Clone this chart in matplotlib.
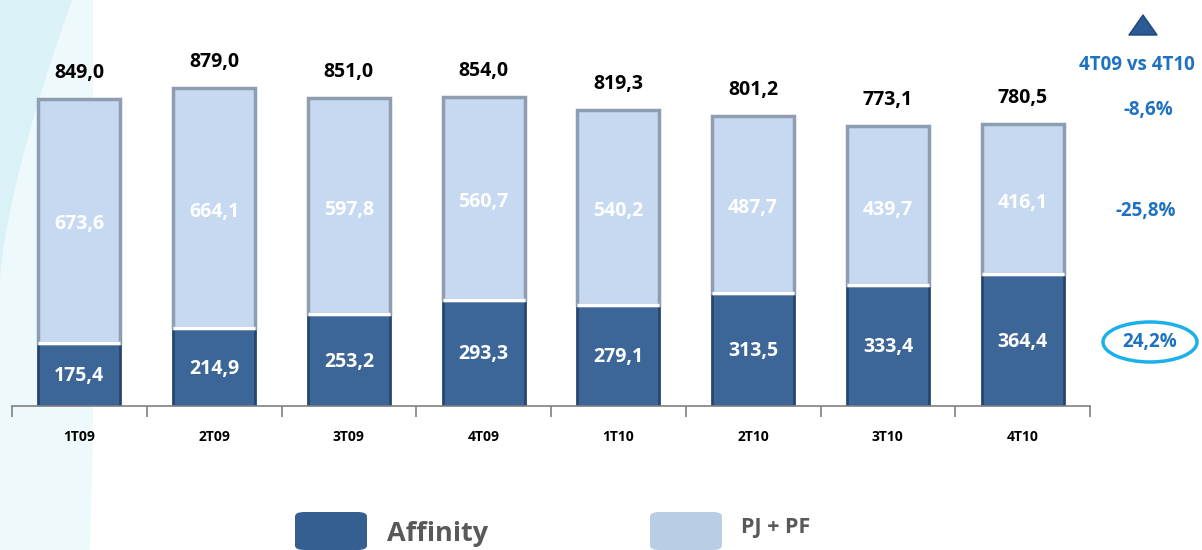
import matplotlib
matplotlib.use("Agg")
import matplotlib.pyplot as plt
from matplotlib.patches import Polygon, Ellipse, FancyBboxPatch
import numpy as np

categories = ["1T09", "2T09", "3T09", "4T09", "1T10", "2T10", "3T10", "4T10"]
affinity = [175.4, 214.9, 253.2, 293.3, 279.1, 313.5, 333.4, 364.4]
pj_pf = [673.6, 664.1, 597.8, 560.7, 540.2, 487.7, 439.7, 416.1]
totals = [849.0, 879.0, 851.0, 854.0, 819.3, 801.2, 773.1, 780.5]
variation_header = "4T09 vs 4T10"
var_total = "-8,6%"
var_pj = "-25,8%"
var_aff = "24,2%"

def fmt(v):
    return f"{v:.1f}".replace(".", ",")

plt.rcParams['font.family'] = ['Open Sans', 'DejaVu Sans']
W, H = 1202, 550
fig = plt.figure(figsize=(W / 100, H / 100), dpi=100)
fig.patch.set_facecolor("white")

def fpx(pts):
    return [(x / W, 1 - y / H) for x, y in pts]

# decorative background on the left (behind the chart)
light = Polygon(fpx([(0, 0), (93, 0), (93, 440), (90, 550), (0, 550)]), closed=True,
                transform=fig.transFigure, facecolor="#EEF9FC", edgecolor="none", zorder=-2)
t = np.linspace(0, 1, 40)
curve = [(72 * (1 - tt) ** 1.4, 280 * tt) for tt in t]
dark = Polygon(fpx([(0, 0)] + curve + [(0, 280)]), closed=True,
               transform=fig.transFigure, facecolor="#DAF1F8", edgecolor="none", zorder=-1)
fig.patches.extend([light, dark])

ax = fig.add_axes([12 / W, 144 / H, 1078 / W, 361.6 / H])
ax.set_facecolor("none")
ax.set_zorder(1)
x = np.arange(len(categories))
w = 0.61

ax.bar(x, affinity, width=w, color="#3D6698", edgecolor="#26466E", linewidth=2, zorder=2)
ax.bar(x, pj_pf, width=w, bottom=affinity, color="#C6D9F1", edgecolor="#8E9DB0",
       linewidth=2.5, zorder=2)
ax.hlines(affinity, x - w / 2, x + w / 2, colors="white", linewidth=2.5, zorder=3)

for xi, a, p, tot in zip(x, affinity, pj_pf, totals):
    ax.text(xi, a / 2 - 4, fmt(a), ha="center", va="center", color="white",
            fontsize=14, fontweight="bold", zorder=4)
    ax.text(xi, a + p / 2 - 10, fmt(p), ha="center", va="center", color="white",
            fontsize=14, fontweight="bold", zorder=4)
    ax.text(xi, tot + 72, fmt(tot), ha="center", va="center", color="black",
            fontsize=14, fontweight="bold", zorder=4)

ax.set_xlim(-0.5, len(categories) - 0.5)
ax.set_ylim(0, 1000)
for s in ["top", "right", "left"]:
    ax.spines[s].set_visible(False)
ax.spines["bottom"].set_color("#808080")
ax.spines["bottom"].set_linewidth(1.2)
ax.spines["bottom"].set_zorder(5)
ax.set_yticks([])
ax.set_xticks(np.arange(-0.5, len(categories)), minor=False)
ax.set_xticklabels([])
ax.tick_params(axis="x", which="major", length=8, color="#808080", width=1.2)
ax.set_xticks(x, minor=True)
ax.set_xticklabels(categories, minor=True, fontsize=10, fontweight="bold")
ax.tick_params(axis="x", which="minor", length=0, pad=17)

# right-side annotations
blue = "#1F72C0"
tri = Polygon(fpx([(1129, 35), (1157, 35), (1143, 15)]), closed=True,
              transform=fig.transFigure, facecolor="#2B5A94", edgecolor="#1E467A",
              linewidth=1, joinstyle="round")
fig.text(1137 / W, 1 - 65 / H, variation_header, ha="center", va="center", color=blue,
         fontsize=13.5, fontweight="bold")
fig.text(1148 / W, 1 - 110 / H, var_total, ha="center", va="center", color=blue,
         fontsize=13.5, fontweight="bold")
fig.text(1146 / W, 1 - 211 / H, var_pj, ha="center", va="center", color=blue,
         fontsize=13.5, fontweight="bold")
fig.text(1150 / W, 1 - 342 / H, var_aff, ha="center", va="center", color=blue,
         fontsize=13.5, fontweight="bold")
ell = Ellipse((1150 / W, 1 - 342 / H), 94 / W, 40 / H, transform=fig.transFigure,
              facecolor="none", edgecolor="#1CB0E8", linewidth=2.5)
fig.patches.extend([tri, ell])

# legend
def legend_box(x0, color):
    return FancyBboxPatch((x0 / W, 1 - 550 / H), 72 / W, 38 / H,
                          boxstyle="round,pad=0,rounding_size=0.008",
                          transform=fig.transFigure, facecolor=color, edgecolor="none")

fig.patches.append(legend_box(295, "#355F91"))
fig.patches.append(legend_box(650, "#B9CDE5"))
fig.text(387 / W, 1 - 534 / H, "Affinity", ha="left", va="center", color="#595959",
         fontsize=19.5, fontweight="bold")
fig.text(741 / W, 1 - 527 / H, "PJ + PF", ha="left", va="center", color="#595959",
         fontsize=15.5, fontweight="bold")

fig.savefig("out.png", dpi=100)
